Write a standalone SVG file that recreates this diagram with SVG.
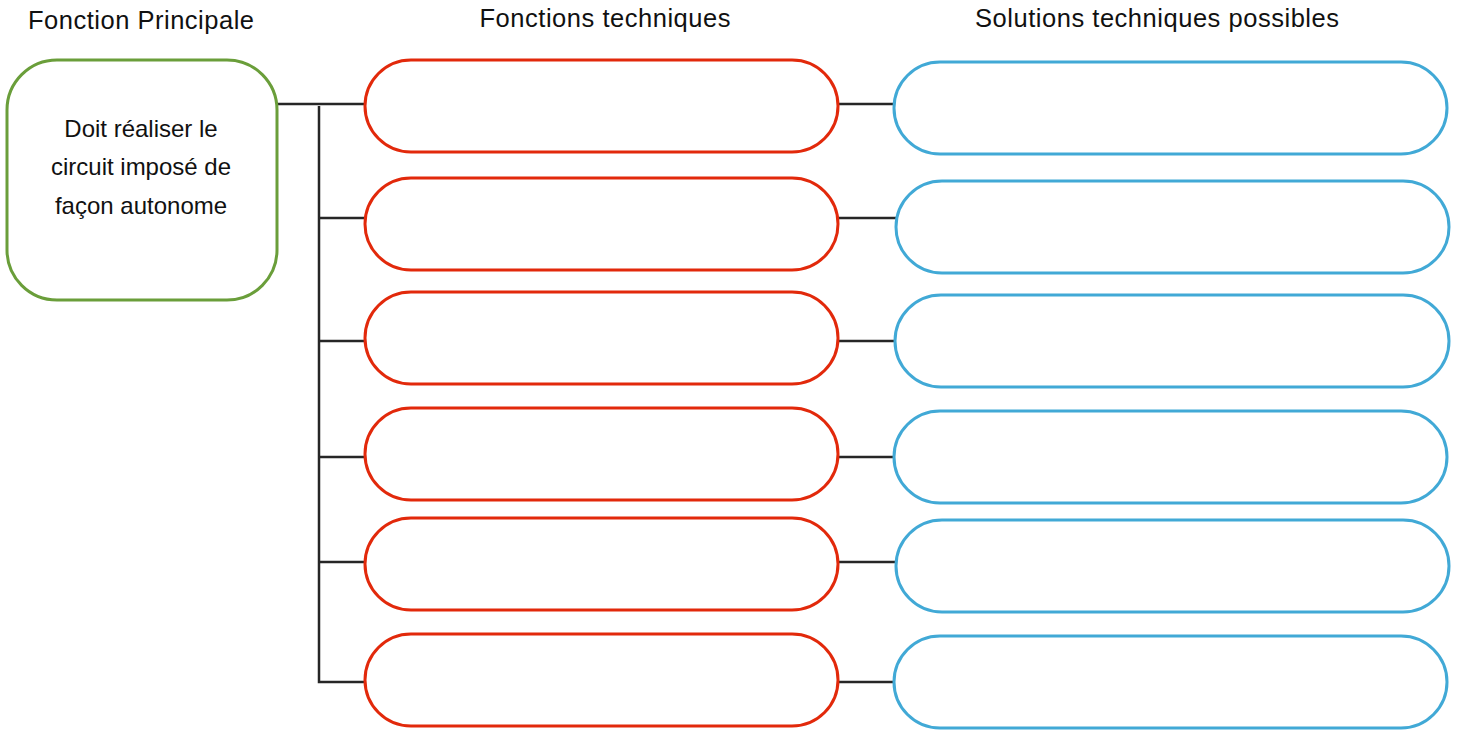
<svg xmlns="http://www.w3.org/2000/svg" width="1459" height="733" viewBox="0 0 1459 733">
<style>
.t{font-family:"Liberation Sans",Arial,sans-serif;font-size:24px;fill:#111;}
.h{font-size:25.5px;}
.c{text-anchor:middle;}
.green{fill:#fff;stroke:#6A9E3A;stroke-width:3;}
.red{fill:#fff;stroke:#E2290B;stroke-width:3;}
.blue{fill:#fff;stroke:#41A9D6;stroke-width:3;}
.ln{stroke:#262626;stroke-width:2.5;fill:none;}
</style>
<rect width="1459" height="733" fill="#fff"/>
<g id="headings">
<text class="t h c" x="141" y="29" textLength="226">Fonction Principale</text>
<text class="t h c" x="605" y="27" textLength="251">Fonctions techniques</text>
<text class="t h c" x="1157" y="27" textLength="364">Solutions techniques possibles</text>
</g>
<g id="connectors">
<line class="ln" x1="277" y1="104" x2="365" y2="104"/>
<polyline class="ln" points="319,106 319,682 365,682"/>
<line class="ln" x1="319" y1="218" x2="365" y2="218"/>
<line class="ln" x1="319" y1="341" x2="365" y2="341"/>
<line class="ln" x1="319" y1="457" x2="365" y2="457"/>
<line class="ln" x1="319" y1="562" x2="365" y2="562"/>
<line class="ln" x1="838" y1="104" x2="894" y2="104"/>
<line class="ln" x1="838" y1="218" x2="896" y2="218"/>
<line class="ln" x1="838" y1="341" x2="895" y2="341"/>
<line class="ln" x1="838" y1="457" x2="894" y2="457"/>
<line class="ln" x1="838" y1="562" x2="896" y2="562"/>
<line class="ln" x1="838" y1="682" x2="894" y2="682"/>
</g>
<g id="main">
<rect class="green" x="7" y="60" width="270" height="240" rx="50" ry="50"/>
<text class="t c" x="141" y="137">Doit réaliser le</text>
<text class="t c" x="141" y="175">circuit imposé de</text>
<text class="t c" x="141" y="214">façon autonome</text>
</g>
<g id="ft1"><rect class="red" x="365" y="60" width="473" height="92" rx="46"/></g>
<g id="ft2"><rect class="red" x="365" y="178" width="473" height="92" rx="46"/></g>
<g id="ft3"><rect class="red" x="365" y="292" width="473" height="92" rx="46"/></g>
<g id="ft4"><rect class="red" x="365" y="408" width="473" height="92" rx="46"/></g>
<g id="ft5"><rect class="red" x="365" y="518" width="473" height="92" rx="46"/></g>
<g id="ft6"><rect class="red" x="365" y="634" width="473" height="92" rx="46"/></g>
<g id="st1"><rect class="blue" x="894" y="62" width="553" height="92" rx="46"/></g>
<g id="st2"><rect class="blue" x="896" y="181" width="553" height="92" rx="46"/></g>
<g id="st3"><rect class="blue" x="895" y="295" width="554" height="92" rx="46"/></g>
<g id="st4"><rect class="blue" x="894" y="411" width="553" height="92" rx="46"/></g>
<g id="st5"><rect class="blue" x="896" y="520" width="553" height="92" rx="46"/></g>
<g id="st6"><rect class="blue" x="894" y="636" width="553" height="92" rx="46"/></g>
</svg>
